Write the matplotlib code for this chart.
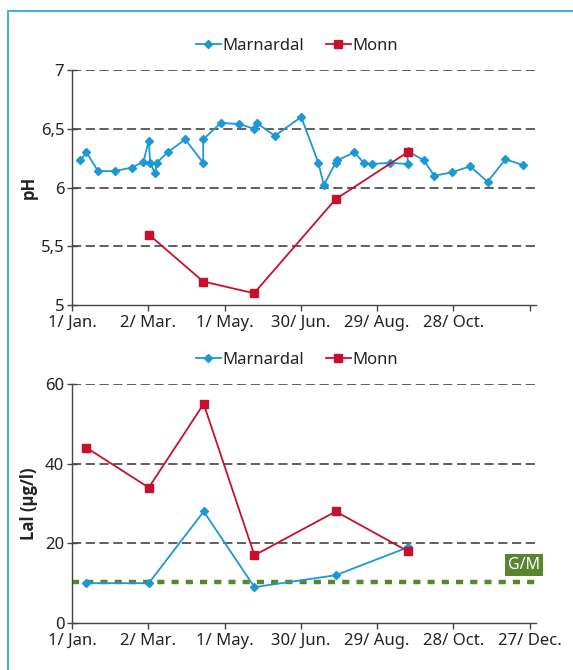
import matplotlib
matplotlib.use("Agg")
import matplotlib.pyplot as plt
from matplotlib.lines import Line2D

plt.rcParams['font.family'] = ['Noto Sans', 'DejaVu Sans']

# ---------------- data ----------------
tick_days = [0, 60, 120, 180, 240, 300, 360]
tick_labels_top = ["1/ Jan.", "2/ Mar.", "1/ May.", "30/ Jun.", "29/ Aug.", "28/ Oct.", ""]
tick_labels_bottom = ["1/ Jan.", "2/ Mar.", "1/ May.", "30/ Jun.", "29/ Aug.", "28/ Oct.", "27/ Dec."]

ph_marnardal_days = [6.6, 11.3, 20.4, 33.5, 47.3, 56.2, 60.4, 61.5, 65.4, 66.6, 75.3, 89.1,
                     103.2, 103.2, 117.1, 131.5, 143.2, 145.3, 159.5, 180.3, 193.8, 198.1,
                     207.3, 208.5, 222.2, 229.5, 236.0, 250.4, 264.0, 264.0, 277.0, 284.9,
                     299.2, 313.1, 326.9, 341.0, 355.1]
ph_marnardal = [6.23, 6.30, 6.14, 6.14, 6.17, 6.22, 6.40, 6.21, 6.12, 6.21, 6.30, 6.41,
                6.21, 6.41, 6.55, 6.54, 6.50, 6.55, 6.44, 6.60, 6.21, 6.02,
                6.21, 6.23, 6.30, 6.21, 6.20, 6.21, 6.20, 6.31, 6.23, 6.10,
                6.13, 6.18, 6.05, 6.24, 6.19]

ph_monn_days = [60.4, 103.2, 143.2, 207.3, 264.0]
ph_monn = [5.6, 5.2, 5.1, 5.9, 6.3]

lal_days = [11.4, 60.4, 103.6, 143.5, 207.5, 264.3]
lal_marnardal = [10, 10, 28, 9, 12, 19]
lal_monn = [44, 34, 55, 17, 28, 18]

gm_limit = 10.2

series_names = ["Marnardal", "Monn"]

# ---------------- style ----------------
BLUE = "#1b98d5"
RED = "#c8102e"
GREEN = "#5b8430"
TXT = "#222222"
SPINE = "#444444"

W, H = 573, 670
fig = plt.figure(figsize=(W / 100, H / 100), dpi=100)

# light blue frame (top & left)
fig.add_artist(Line2D([8 / W, 8 / W], [0, 1 - 11 / H], transform=fig.transFigure,
                      color="#3aaee0", lw=1.4))
fig.add_artist(Line2D([8 / W, 1], [1 - 11 / H, 1 - 11 / H], transform=fig.transFigure,
                      color="#3aaee0", lw=1.4))

x0, x1 = 72 / W, 536 / W
ax1 = fig.add_axes([x0, 1 - 305 / H, x1 - x0, 235 / H])
ax2 = fig.add_axes([x0, 1 - 623 / H, x1 - x0, 239 / H])


def style_axis(ax, labels):
    ax.set_xlim(0, 365)
    ax.set_xticks(tick_days)
    ax.set_xticklabels(labels)
    for s in ["top", "right"]:
        ax.spines[s].set_visible(False)
    for s in ["left", "bottom"]:
        ax.spines[s].set_color(SPINE)
        ax.spines[s].set_linewidth(1.0)
    ax.tick_params(axis="x", direction="out", length=4, width=1, color=SPINE,
                   labelsize=12, labelcolor=TXT, pad=3)
    ax.tick_params(axis="y", direction="inout", length=7, width=1, color=SPINE,
                   labelsize=12, labelcolor=TXT, pad=2)
    ax.set_facecolor("none")


legend_kw = dict(loc="lower center", bbox_to_anchor=(0.485, 1.04), ncol=2, frameon=False,
                 fontsize=12, handlelength=1.5, handletextpad=0.1, columnspacing=1.3,
                 borderaxespad=0, labelcolor=TXT)

label_font = dict(fontsize=12, fontweight="bold", color=TXT,
                  family=["Open Sans", "DejaVu Sans"])

# ---------------- top: pH ----------------
style_axis(ax1, tick_labels_top)
ax1.set_ylim(5, 7)
ax1.set_yticks([5, 5.5, 6, 6.5, 7])
ax1.set_yticklabels(["5", "5,5", "6", "6,5", "7"])
for v in [5.5, 6, 6.5, 7]:
    ax1.axhline(v, color="#333333", lw=1.1, ls=(0, (6, 3)), zorder=1)
ax1.plot(ph_marnardal_days, ph_marnardal, color=BLUE, lw=1.3, marker="D", ms=4.3,
         mec=BLUE, mfc=BLUE, label=series_names[0], zorder=3, clip_on=False)
ax1.plot(ph_monn_days, ph_monn, color=RED, lw=1.3, marker="s", ms=6,
         mec=RED, mfc=RED, label=series_names[1], zorder=4, clip_on=False)
ax1.set_ylabel("pH", **label_font)
ax1.yaxis.set_label_coords(-34 / 464, 0.5)
ax1.legend(**legend_kw)

# ---------------- bottom: LAl ----------------
style_axis(ax2, tick_labels_bottom)
ax2.set_ylim(0, 60)
ax2.set_yticks([0, 20, 40, 60])
for v in [20, 40, 60]:
    ax2.axhline(v, color="#333333", lw=1.1, ls=(0, (6, 3)), zorder=1)
ax2.axhline(gm_limit, color=GREEN, lw=3.2, ls=(0, (1.6, 1.6)), zorder=2)
ax2.plot(lal_days, lal_marnardal, color=BLUE, lw=1.3, marker="D", ms=4.3,
         mec=BLUE, mfc=BLUE, label=series_names[0], zorder=3)
ax2.plot(lal_days, lal_monn, color=RED, lw=1.3, marker="s", ms=6,
         mec=RED, mfc=RED, label=series_names[1], zorder=4)
ax2.set_ylabel("Lal (µg/l)", **label_font)
ax2.yaxis.set_label_coords(-34 / 464, 0.5)
ax2.legend(**legend_kw)

# G/M label box
ax2.text(1.008, gm_limit + 2.4, "G/M", transform=ax2.get_yaxis_transform(),
         ha="right", va="bottom", fontsize=11.5, color="white",
         bbox=dict(boxstyle="square,pad=0.2", fc=GREEN, ec="none"), zorder=5)

fig.savefig("out.png", dpi=100)
